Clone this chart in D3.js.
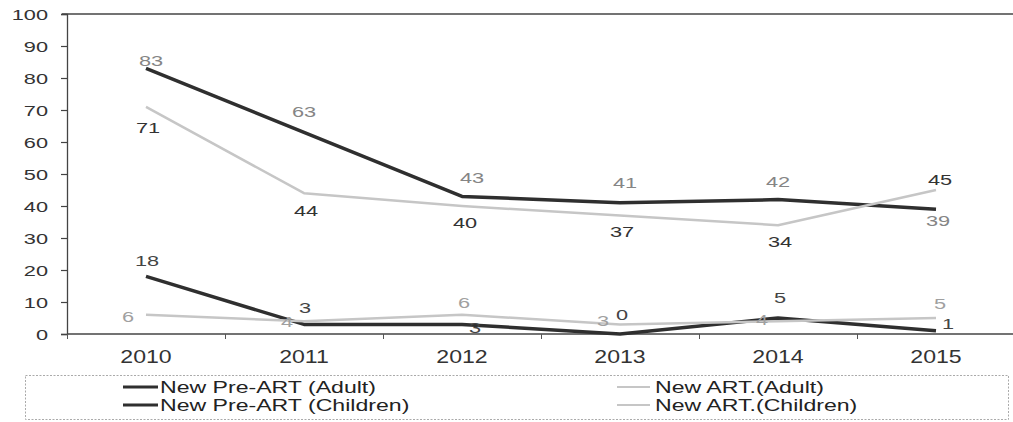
<!DOCTYPE html>
<html>
<head>
<meta charset="utf-8">
<script src="https://cdn.jsdelivr.net/npm/d3@7"></script>
<style>
  body { margin: 0; background: #fff; }
  svg { display: block; }
  text { font-family: "Liberation Sans", Arial, sans-serif; }
</style>
</head>
<body>
<div id="chart"></div>
<script>
// data
var years = ['2010', '2011', '2012', '2013', '2014', '2015'];
var preArtAdult = [83, 63, 43, 41, 42, 39];
var artAdult = [71, 44, 40, 37, 34, 45];
var preArtChildren = [18, 3, 3, 0, 5, 1];
var artChildren = [6, 4, 6, 3, 4, 5];
var yTicks = [0, 10, 20, 30, 40, 50, 60, 70, 80, 90, 100];
var seriesNames = ['New Pre-ART (Adult)', 'New ART.(Adult)', 'New Pre-ART (Children)', 'New ART.(Children)'];

dim = { 'width': 1013, 'height': 422, 'left': 67, 'right': 1015, 'top': 14, 'bottom': 334 };

var dark = '#2f2f2f', light = '#c6c6c6';

// label placement relative to each point (layout only)
var series = [
    { name: seriesNames[0], values: preArtAdult, stroke: dark, width: 3.5, labelColor: '#858585',
      dx: [5, 0, 10, 5, 0, 2], dy: [-7, -20, -18, -20, -18, 12] },
    { name: seriesNames[1], values: artAdult, stroke: light, width: 2.5, labelColor: '#333',
      dx: [2, 2, 3, 2, 2, 4], dy: [21, 18, 17, 16, 17, -10] },
    { name: seriesNames[2], values: preArtChildren, stroke: dark, width: 3.5, labelColor: '#444',
      dx: [1, 1, 13, 2, 2, 12], dy: [-15, -16, 4, -19, -20, -7] },
    { name: seriesNames[3], values: artChildren, stroke: light, width: 2.5, labelColor: '#a0a0a0',
      dx: [-18, -17, 2, -17, -16, 4], dy: [2, 1, -12, -3, -1, -14] }
];

var svg = d3.select('#chart').append('svg').attr('width', dim.width).attr('height', dim.height);

var xScale = d3.scaleBand().domain(years).range([dim.left, dim.right]).padding(0);
var xEdges = d3.scaleLinear().domain([0, years.length]).range([dim.left, dim.right]);
var yScale = d3.scaleLinear().domain([0, 100]).range([dim.bottom, dim.top]);

function cx(i) { return xScale(years[i]) + xScale.bandwidth() / 2; }

// top border of the plot area
svg.append('line')
    .attr('x1', 62).attr('x2', dim.width)
    .attr('y1', yScale(100)).attr('y2', yScale(100))
    .attr('stroke', '#444').attr('stroke-width', 1.3);

// y axis
var yAxis = svg.append('g').attr('transform', `translate(${dim.left},0)`)
    .call(d3.axisLeft(yScale).tickValues(yTicks).tickSize(6).tickPadding(0));
yAxis.select('.domain').attr('stroke', '#444').attr('stroke-width', 1.3);
yAxis.selectAll('.tick line').attr('stroke', '#444').attr('stroke-width', 1.2);
yAxis.selectAll('.tick text')
    .attr('x', null).attr('dy', null)
    .attr('text-anchor', 'end')
    .attr('fill', '#333')
    .style('font-size', '14.5px')
    .attr('transform', 'translate(-19,5) scale(1.5,1)');

// x axis: tick marks at category edges, labels at centres
var xTicks = svg.append('g').attr('transform', `translate(0,${dim.bottom})`)
    .call(d3.axisBottom(xEdges).ticks(years.length).tickFormat('').tickSize(5).tickSizeOuter(0));
xTicks.select('.domain').attr('d', `M${dim.left},0H${dim.width}`).attr('stroke', '#444').attr('stroke-width', 1.3);
xTicks.selectAll('.tick line').attr('stroke', '#555');

var xLabels = svg.append('g').attr('transform', `translate(0,${dim.bottom})`)
    .call(d3.axisBottom(xScale).tickSize(0).tickPadding(0));
xLabels.select('.domain').remove();
xLabels.selectAll('.tick text')
    .attr('y', null).attr('dy', null)
    .attr('fill', '#333')
    .style('font-size', '17.5px')
    .attr('transform', 'translate(0,29) scale(1.32,1)');

// lines
var line = d3.line()
    .x((d, i) => cx(i))
    .y(d => yScale(d));

svg.selectAll('path.series')
    .data(series)
    .enter().append('path')
    .attr('class', 'series')
    .attr('d', d => line(d.values))
    .attr('fill', 'none')
    .attr('stroke', d => d.stroke)
    .attr('stroke-width', d => d.width)
    .attr('stroke-linejoin', 'round');

// data labels
series.forEach(function(s) {
    svg.append('g').selectAll('text')
        .data(s.values)
        .enter().append('text')
        .attr('text-anchor', 'middle')
        .attr('fill', s.labelColor)
        .style('font-size', '14.5px')
        .attr('transform', (d, i) => `translate(${cx(i) + s.dx[i]},${yScale(d) + s.dy[i] + 5}) scale(1.5,1)`)
        .text(d => d);
});

// legend
svg.append('rect')
    .attr('x', 25.5).attr('y', 375.5).attr('width', 983).attr('height', 44)
    .attr('fill', 'none').attr('stroke', '#aaa').attr('stroke-dasharray', '2,1.5');

var legendPos = [
    { x: 123, y: 387 }, { x: 617, y: 387 },
    { x: 123, y: 405 }, { x: 617, y: 405 }
];

var legend = svg.append('g').selectAll('g')
    .data(series)
    .enter().append('g')
    .attr('transform', (d, i) => `translate(${legendPos[i].x},${legendPos[i].y})`);

legend.append('line')
    .attr('x1', 0).attr('x2', d => d.stroke === dark ? 35 : 33)
    .attr('stroke', d => d.stroke)
    .attr('stroke-width', d => d.stroke === dark ? 3 : 2);

legend.append('text')
    .attr('fill', '#222')
    .style('font-size', '16.5px')
    .attr('transform', d => `translate(${d.stroke === dark ? 37 : 38},6) scale(1.4,1)`)
    .text(d => d.name);
</script>
</body>
</html>
